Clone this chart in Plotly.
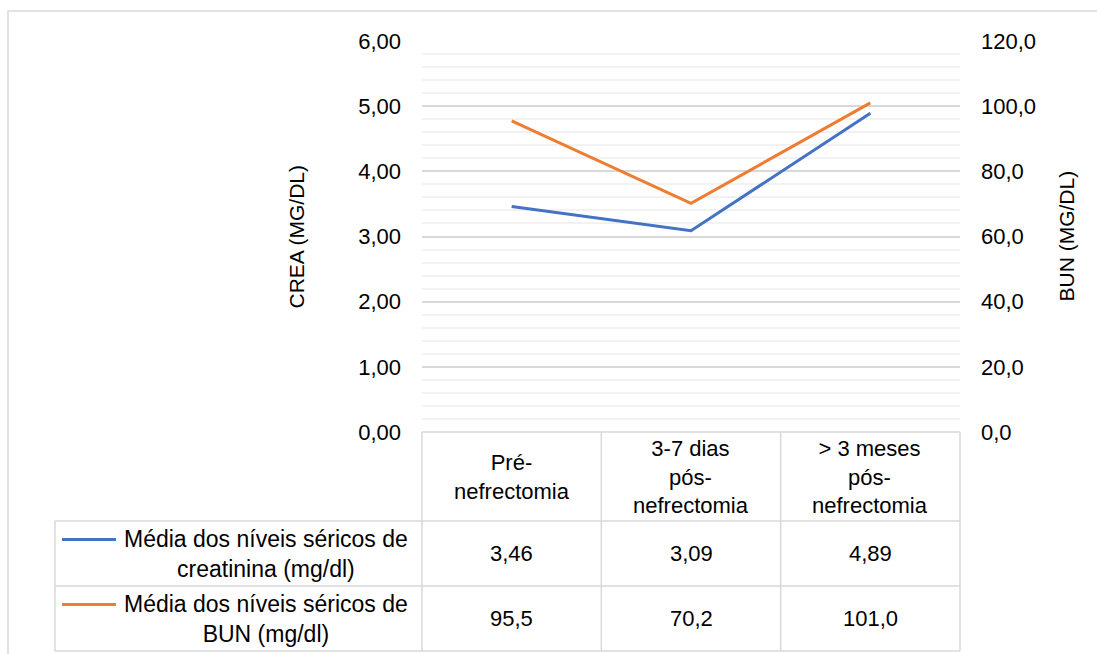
import plotly.graph_objects as go

# ---------------- data ----------------
categories = ["Pré-nefrectomia", "3-7 dias pós-nefrectomia", "> 3 meses pós-nefrectomia"]
header_labels = ["Pré-<br>nefrectomia", "3-7 dias<br>pós-<br>nefrectomia", "> 3 meses<br>pós-<br>nefrectomia"]
crea_values = [3.46, 3.09, 4.89]
bun_values = [95.5, 70.2, 101.0]
series_names = ["Média dos níveis séricos de<br>creatinina (mg/dl)",
                "Média dos níveis séricos de<br>BUN (mg/dl)"]
series_decimals = [2, 1]
series_colors = ["#4472C4", "#ED7D31"]
left_title = "CREA (MG/DL)"
right_title = "BUN (MG/DL)"

# ---------------- layout geometry (pixels) ----------------
W, H = 1097, 654
PL, PR, PT, PB = 422, 960, 41, 432           # plot area
ROWS = [PB, 521, 586, 651]                     # table row edges
TABLE_LEFT = 55
FONT = "Liberation Sans, Arial, sans-serif"
FS = 22
GRID = "#d9d9d9"
TXT = "#000000"


def fx(x):
    return x / W


def fy(y):
    return 1 - y / H


fig = go.Figure()
fig.add_trace(go.Scatter(x=categories, y=crea_values, mode="lines", name=series_names[0],
                         line=dict(color=series_colors[0], width=3), yaxis="y"))
fig.add_trace(go.Scatter(x=categories, y=bun_values, mode="lines", name=series_names[1],
                         line=dict(color=series_colors[1], width=3), yaxis="y2"))

shapes = []
annotations = []

# outer chart border
shapes.append(dict(type="rect", xref="paper", yref="paper", x0=fx(8), x1=fx(1110), y0=fy(11), y1=fy(670),
                   line=dict(color=GRID, width=1.5), fillcolor="rgba(0,0,0,0)", layer="below"))

# table geometry
ncol = len(categories)
col_w = (PR - PL) / ncol
col_edges = [PL + i * col_w for i in range(ncol + 1)]

# horizontal lines
shapes.append(dict(type="line", xref="paper", yref="paper", x0=fx(PL), x1=fx(PR), y0=fy(ROWS[0]), y1=fy(ROWS[0]),
                   line=dict(color=GRID, width=1.5)))
for r in ROWS[1:]:
    shapes.append(dict(type="line", xref="paper", yref="paper", x0=fx(TABLE_LEFT), x1=fx(PR), y0=fy(r), y1=fy(r),
                       line=dict(color=GRID, width=1.5)))
# vertical lines
for cx in col_edges:
    shapes.append(dict(type="line", xref="paper", yref="paper", x0=fx(cx), x1=fx(cx), y0=fy(ROWS[0]), y1=fy(ROWS[-1]),
                       line=dict(color=GRID, width=1.5)))
shapes.append(dict(type="line", xref="paper", yref="paper", x0=fx(TABLE_LEFT), x1=fx(TABLE_LEFT),
                   y0=fy(ROWS[1]), y1=fy(ROWS[-1]), line=dict(color=GRID, width=1.5)))

# header labels
for i, lab in enumerate(header_labels):
    annotations.append(dict(xref="paper", yref="paper", x=fx((col_edges[i] + col_edges[i + 1]) / 2),
                            y=fy((ROWS[0] + ROWS[1]) / 2), text=lab, showarrow=False,
                            xanchor="center", yanchor="middle", align="center",
                            font=dict(family=FONT, size=FS, color=TXT)))

# series rows
all_values = [crea_values, bun_values]
for s, (name, vals) in enumerate(zip(series_names, all_values)):
    top, bot = ROWS[s + 1], ROWS[s + 2]
    cy = (top + bot) / 2
    key_y = cy - 14
    shapes.append(dict(type="line", xref="paper", yref="paper", x0=fx(62), x1=fx(116), y0=fy(key_y), y1=fy(key_y),
                       line=dict(color=series_colors[s], width=3)))
    annotations.append(dict(xref="paper", yref="paper", x=fx(266), y=fy(cy), text=name, showarrow=False,
                            xanchor="center", yanchor="middle", align="center",
                            font=dict(family=FONT, size=23, color=TXT)))
    for i, v in enumerate(vals):
        txt = f"{v:.{series_decimals[s]}f}".replace(".", ",")
        annotations.append(dict(xref="paper", yref="paper", x=fx((col_edges[i] + col_edges[i + 1]) / 2),
                                y=fy(cy), text=txt, showarrow=False, xanchor="center", yanchor="middle",
                                font=dict(family=FONT, size=FS, color=TXT)))

# axis titles
annotations.append(dict(xref="paper", yref="paper", x=fx(296), y=fy((PT + PB) / 2), text=left_title,
                        showarrow=False, textangle=-90, xanchor="center", yanchor="middle",
                        font=dict(family=FONT, size=21, color=TXT)))
annotations.append(dict(xref="paper", yref="paper", x=fx(1066), y=fy((PT + PB) / 2), text=right_title,
                        showarrow=False, textangle=-90, xanchor="center", yanchor="middle",
                        font=dict(family=FONT, size=21, color=TXT)))

fig.update_layout(
    width=W, height=H,
    autosize=False,
    margin=dict(l=0, r=0, t=0, b=0, pad=0),
    paper_bgcolor="white", plot_bgcolor="white",
    separators=",.",
    showlegend=False,
    font=dict(family=FONT, size=FS, color=TXT),
    xaxis=dict(domain=[fx(PL), fx(PR)], type="category", range=[-0.5, ncol - 0.5], automargin=False,
               showticklabels=False, showgrid=False, zeroline=False, showline=False, ticks=""),
    yaxis=dict(domain=[fy(PB), fy(PT)], range=[0, 6], dtick=1, tickformat=".2f", automargin=False,
               showgrid=True, gridcolor=GRID, gridwidth=1.5, zeroline=False, showline=False,
               ticks="", ticklabelstandoff=20,
               tickfont=dict(family=FONT, size=FS, color=TXT),
               minor=dict(dtick=0.2, showgrid=True, gridcolor="#f2f2f2", gridwidth=1.5)),
    yaxis2=dict(domain=[fy(PB), fy(PT)], range=[0, 120], dtick=20, tickformat=".1f", overlaying="y",
                side="right", showgrid=False, zeroline=False, showline=False, ticks="", automargin=False,
                ticklabelstandoff=20, tickfont=dict(family=FONT, size=FS, color=TXT)),
    shapes=shapes,
    annotations=annotations,
)

fig.write_html("out.html",
               config={"displayModeBar": False},
               post_script="document.body.style.margin='0';document.body.style.padding='0';"
                           "document.documentElement.style.overflow='hidden';")
